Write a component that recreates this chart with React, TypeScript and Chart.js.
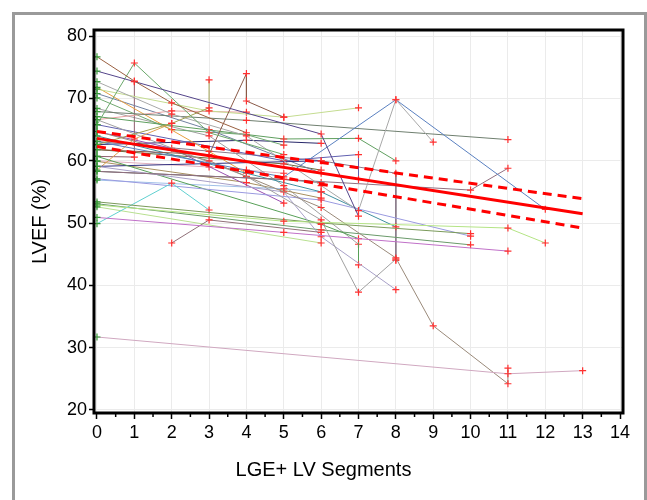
import React, { useEffect, useRef } from "react";
import { Chart, registerables } from "chart.js";
Chart.register(...registerables);

const xTicks = [0, 1, 2, 3, 4, 5, 6, 7, 8, 9, 10, 11, 12, 13, 14];
const xMinorTicks = [0.5, 1.5, 2.5, 3.5, 4.5, 5.5, 6.5, 7.5, 8.5, 9.5, 10.5, 11.5, 12.5, 13.5];
const yTicks = [20, 30, 40, 50, 60, 70, 80];
const xTitle = "LGE+ LV Segments";
const yTitle = "LVEF (%)";

// Each patient: [LGE+ segments, LVEF]
const p01 = [[0, 76.7], [1, 72.8], [2, 69.3], [4, 64.5]];
const p02 = [[0, 74.4], [6, 64.3], [7, 51.1]];
const p03 = [[0, 65.8], [1, 75.7], [3, 64.5], [5, 61]];
const p04 = [[0, 62.6], [2, 66], [3, 68.5], [3, 73]];
const p05 = [[0, 61.8], [3, 61], [4, 74], [4, 69.6], [5, 67]];
const p06 = [[0, 72.7], [2, 67.5], [4, 64], [6, 56], [7, 52], [8, 69.8], [9, 63]];
const p07 = [[0, 63.1], [4, 58.5], [5, 57.4], [8, 69.8], [12, 52.2]];
const p08 = [[0, 67.9], [4, 66.5], [11, 63.4]];
const p09 = [[0, 71.5], [3, 68], [5, 67], [7, 68.5]];
const p10 = [[0, 67.1], [5, 63.5], [7, 63.6], [8, 60]];
const p11 = [[0, 58.3], [5, 57], [10, 55.3], [11, 58.8]];
const p12 = [[0, 52.9], [5, 50.3], [11, 49.2], [12, 46.8]];
const p13 = [[0, 53.4], [6, 50], [10, 48.3]];
const p14 = [[0, 50.9], [5, 48.5], [11, 45.5]];
const p15 = [[0, 49.9], [2, 56.4], [3, 52.1]];
const p16 = [[2, 46.8], [3, 50.5], [6, 48.5]];
const p17 = [[0, 31.7], [11, 25.8], [13, 26.3]];
const p18 = [[0, 64.7], [3, 60], [6, 52.5], [8, 44.4], [9, 33.5], [11, 24.2], [11, 26.7]];
const p19 = [[0, 66.6], [4, 57.5], [6, 50.5], [7, 38.9], [8, 44.2]];
const p20 = [[0, 57.1], [6, 53.7], [10, 47.9]];
const p21 = [[0, 59.1], [5, 55], [6, 47.8], [8, 39.3]];
const p22 = [[0, 60.7], [6, 49.8], [7, 47.5], [7, 43.3]];
const p23 = [[0, 52.6], [6, 46.8]];
const p24 = [[0, 53.1], [6, 48.9], [10, 46.5]];
const p25 = [[0, 59.1], [6, 60]];
const p26 = [[0, 64], [6, 55], [8, 49.4]];
const p27 = [[0, 71.8], [3, 61.5], [4, 58]];
const p28 = [[0, 58.5], [1, 63.5], [2, 66]];
const p29 = [[0, 66.6], [2, 68], [4, 67.8]];
const p30 = [[0, 64.7], [2, 62], [5, 53.2]];
const p31 = [[0, 70.8], [3, 65], [6, 58]];
const p32 = [[0, 56.9], [5, 55.5], [6, 55]];
const p33 = [[0, 58.3], [5, 57], [6, 56.5]];
const p34 = [[0, 59.9], [4, 56.5], [6, 54]];
const p35 = [[0, 70.1], [2, 65], [4, 64.2], [5, 62.5]];
const p36 = [[0, 60.7], [1, 60.6], [1, 72.7]];
const p37 = [[0, 68.4], [3, 64], [5, 56], [7, 46.6]];
const p38 = [[0, 65.8], [5, 60], [7, 61], [7, 57]];
const p39 = [[0, 63.1], [6, 60], [8, 58], [8, 44]];
const p40 = [[0, 62.6], [4, 63.3], [6, 62.8]];
const p41 = [[0, 61.8], [5, 59.5], [6, 58.5]];
const p42 = [[0, 60], [3, 59], [5, 58]];

const patients = [p01, p02, p03, p04, p05, p06, p07, p08, p09, p10, p11, p12, p13, p14,
  p15, p16, p17, p18, p19, p20, p21, p22, p23, p24, p25, p26, p27, p28, p29, p30, p31,
  p32, p33, p34, p35, p36, p37, p38, p39, p40, p41, p42];

const patientColors = [
  "#9a6040", "#54448a", "#6aa86a", "#a0a050", "#8a5a48", "#a8a8a8", "#5a80c0",
  "#6f7f6f", "#c4dc90", "#5f9f5f", "#907080", "#b4e484", "#7a9a5a", "#c070c8",
  "#60d0d0", "#907078", "#d0a8c0", "#9a8a7a", "#a0a0a0", "#9a9ae0", "#a8a0c8",
  "#58a058", "#b8e090", "#6a9a6a", "#303080", "#4090a0", "#e8a040", "#e0a050",
  "#e8a0a0", "#9a50b0", "#7080a0", "#a0c0e8", "#606060", "#a89060", "#70a870",
  "#906070", "#a0a0a0", "#6060b0", "#8a7a8a", "#28286a", "#6a6a3a", "#e0b0c0",
];

// Regression fit and confidence limits
const fitX = [0, 13];
const fitY = [63.6, 51.5];
const upperY = [64.7, 53.9];
const lowerY = [62.3, 49.2];

const framePlugin = {
  id: "frameAndMinor",
  afterDraw(chart: any) {
    const { ctx, chartArea } = chart;
    const { left, top, right, bottom } = chartArea;
    const x = chart.scales.x;
    ctx.save();
    ctx.strokeStyle = "#000";
    ctx.lineWidth = 1.5;
    for (const v of xMinorTicks) {
      const px = x.getPixelForValue(v);
      ctx.beginPath();
      ctx.moveTo(px, bottom);
      ctx.lineTo(px, bottom + 4);
      ctx.stroke();
    }
    ctx.lineWidth = 3;
    ctx.strokeRect(left, top, right - left, bottom - top);
    // axis titles
    ctx.fillStyle = "#000";
    ctx.font = "20px 'Liberation Sans'";
    ctx.textAlign = "center";
    ctx.textBaseline = "middle";
    ctx.fillText(xTitle, chart.width / 2, 470);
    ctx.translate(40, (top + bottom) / 2);
    ctx.rotate(-Math.PI / 2);
    ctx.fillText(yTitle, 0, 0);
    ctx.restore();
  },
};

export default function App() {
  const ref = useRef<HTMLCanvasElement>(null);
  useEffect(() => {
    if (!ref.current) return;
    const toPts = (arr: number[][]) => arr.map(([x, y]) => ({ x, y }));
    const patientSets = patients.map((p, i) => ({
      data: toPts(p),
      showLine: true,
      borderColor: patientColors[i % patientColors.length],
      borderWidth: 1,
      pointStyle: "cross",
      pointRadius: 3.5,
      pointBorderWidth: 1.2,
      pointBorderColor: (c: any) => (c.raw && c.raw.x === 0 ? "#3a9a3a" : "#ff3030"),
      pointBackgroundColor: "transparent",
      order: 2,
    }));
    const mk = (ys: number[], dash: number[]) => ({
      data: fitX.map((x, i) => ({ x, y: ys[i] })),
      showLine: true,
      borderColor: "#ff0000",
      borderWidth: 3,
      borderDash: dash,
      pointRadius: 0,
      order: 0,
    });
    const chart = new Chart(ref.current, {
      type: "scatter",
      data: {
        datasets: [...patientSets, mk(fitY, []), mk(upperY, [9, 6]), mk(lowerY, [9, 6])] as any,
      },
      options: {
        animation: false,
        responsive: false,
        events: [],
        layout: { padding: { left: 0, right: 24, top: 30, bottom: 0 } },
        plugins: { legend: { display: false }, tooltip: { enabled: false } },
        scales: {
          x: {
            type: "linear",
            min: -0.08,
            max: 14.08,
            afterBuildTicks: (s: any) => { s.ticks = xTicks.map((v) => ({ value: v })); },
            afterFit: (s: any) => { s.height = 87; },
            border: { display: false },
            grid: { color: "#ebebeb", lineWidth: 1, tickColor: "#000", tickLength: 6, tickWidth: 1.5 },
            ticks: { color: "#000", font: { family: "Liberation Sans", size: 18 }, padding: 3, maxRotation: 0, autoSkip: false },
          },
          y: {
            type: "linear",
            min: 19.5,
            max: 81,
            afterBuildTicks: (s: any) => { s.ticks = yTicks.map((v) => ({ value: v })); },
            afterFit: (s: any) => { s.width = 94; },
            border: { display: false },
            grid: { color: "#ebebeb", lineWidth: 1, tickColor: "#000", tickLength: 5, tickWidth: 1.5 },
            ticks: { color: "#000", font: { family: "Liberation Sans", size: 18 }, padding: 2 },
          },
        },
      },
      plugins: [framePlugin],
    });
    return () => chart.destroy();
  }, []);
  return (
    <>
      <div
        style={{
          position: "fixed", left: 12, top: 12, width: 635, height: 500,
          boxSizing: "border-box", border: "3px solid #9a9a9a", background: "#fff",
        }}
      />
      <canvas ref={ref} width={647} height={500}
        style={{ position: "fixed", left: 0, top: 0, width: 647, height: 500 }} />
    </>
  );
}
